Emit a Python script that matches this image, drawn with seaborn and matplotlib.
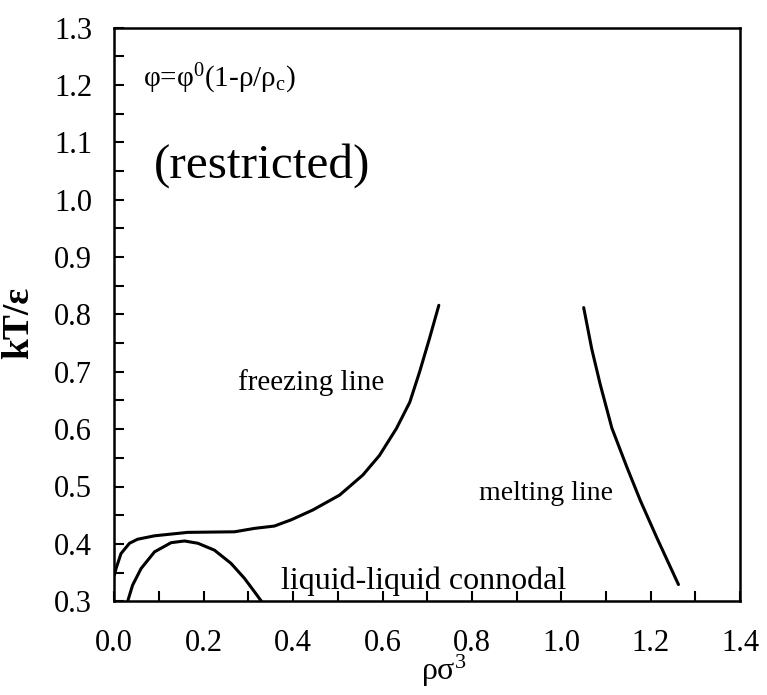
import numpy as np
import pandas as pd
import seaborn as sns
import matplotlib.pyplot as plt
from matplotlib.ticker import MultipleLocator

# freezing line
freeze_x = [0.0, 0.004, 0.015, 0.034, 0.052, 0.090, 0.164, 0.269, 0.314, 0.358, 0.396,
            0.444, 0.504, 0.556, 0.593, 0.631, 0.661, 0.683, 0.705, 0.726]
freeze_y = [0.345, 0.357, 0.383, 0.401, 0.408, 0.414, 0.420, 0.421, 0.427, 0.431, 0.442,
            0.459, 0.485, 0.520, 0.554, 0.601, 0.647, 0.700, 0.758, 0.816]

# liquid-liquid connodal
conn_x = [0.030, 0.041, 0.060, 0.090, 0.127, 0.157, 0.187, 0.224, 0.261, 0.291, 0.314, 0.329]
conn_y = [0.300, 0.328, 0.357, 0.386, 0.402, 0.405, 0.401, 0.389, 0.366, 0.340, 0.316, 0.300]

# melting line
melt_x = [1.050, 1.068, 1.087, 1.113, 1.147, 1.177, 1.214, 1.262]
melt_y = [0.812, 0.740, 0.678, 0.602, 0.533, 0.475, 0.410, 0.329]

sns.set_style("ticks")
plt.rcParams['font.family'] = ['Liberation Serif', 'DejaVu Serif']
plt.rcParams['mathtext.fontset'] = 'custom'
plt.rcParams['mathtext.rm'] = 'Liberation Serif'
plt.rcParams['mathtext.it'] = 'Liberation Serif'
plt.rcParams['mathtext.bf'] = 'Liberation Serif:bold'
for k in ['text.color', 'axes.labelcolor', 'xtick.color', 'ytick.color']:
    plt.rcParams[k] = 'black'

fig, ax = plt.subplots(figsize=(7.67, 6.95), dpi=100)
fig.subplots_adjust(left=0.149, right=0.965, bottom=0.135, top=0.960)

for xs, ys in [(freeze_x, freeze_y), (conn_x, conn_y), (melt_x, melt_y)]:
    df = pd.DataFrame({'x': xs, 'y': ys})
    sns.lineplot(data=df, x='x', y='y', ax=ax, color='black', linewidth=2.2,
                 sort=False, estimator=None)

ax.set_xlim(0.0, 1.4)
ax.set_ylim(0.3, 1.3)
ax.xaxis.set_major_locator(MultipleLocator(0.2))
ax.xaxis.set_minor_locator(MultipleLocator(0.1))
ax.yaxis.set_major_locator(MultipleLocator(0.1))
ax.yaxis.set_minor_locator(MultipleLocator(0.05))
ax.xaxis.set_major_formatter(plt.FormatStrFormatter('%.1f'))
ax.yaxis.set_major_formatter(plt.FormatStrFormatter('%.1f'))
ax.tick_params(which='both', direction='in', length=7, width=1.5, labelsize=22)
ax.tick_params(axis='x', pad=20)
ax.tick_params(axis='y', pad=16)
for s in ax.spines.values():
    s.set_linewidth(1.8)
    s.set_color('black')

ax.set_xlabel('ρσ$^{3}$', fontsize=23)
ax.xaxis.set_label_coords(0.526, -0.090)
ax.set_ylabel('kT/ε', fontsize=27, fontweight='bold')
ax.yaxis.set_label_coords(-0.125, 0.485)

ax.text(0.065, 1.21, 'φ=φ$^{0}$(1-ρ/ρ$_{c}$)', fontsize=21, va='center')
ax.text(0.088, 1.06, '(restricted)', fontsize=35.5, va='center')
ax.text(0.277, 0.681, 'freezing line', fontsize=21, va='center')
ax.text(1.116, 0.488, 'melting line', fontsize=20, va='center', ha='right')
ax.text(0.372, 0.335, 'liquid-liquid connodal', fontsize=23, va='center')

fig.savefig("out.png", dpi=100)
